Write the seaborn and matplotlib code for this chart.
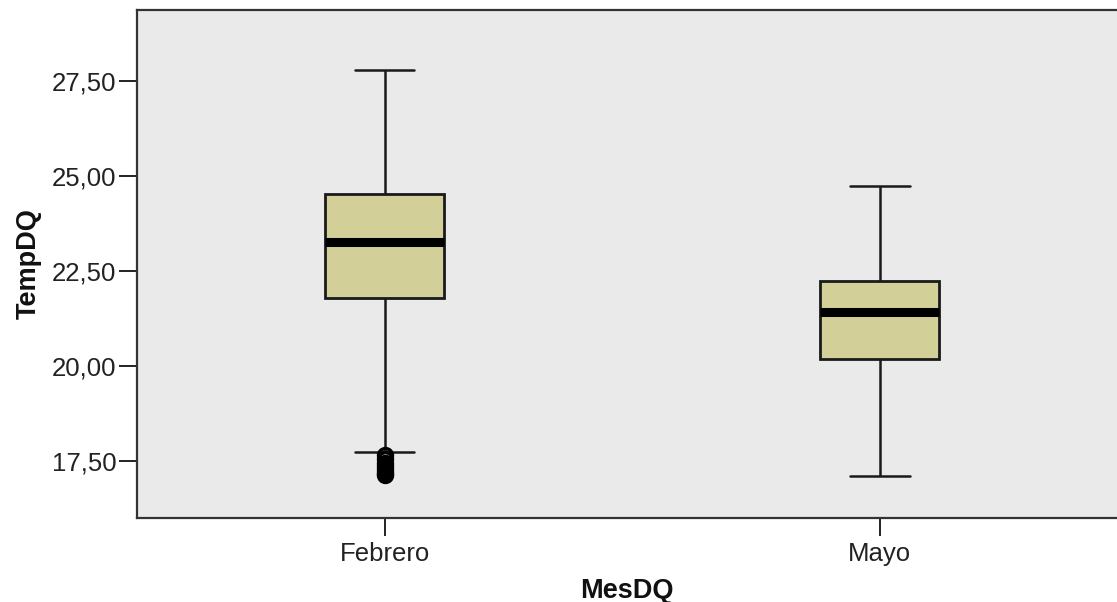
import matplotlib
matplotlib.use("Agg")
import matplotlib.pyplot as plt
import seaborn as sns
import pandas as pd

# Data
months = ["Febrero", "Mayo"]
feb_temps = [17.12, 17.16, 17.22, 17.30, 17.38, 17.45, 17.55, 17.66,
             17.74,
             21.79,
             21.95, 22.10, 22.30, 22.50, 22.70, 22.85, 23.00, 23.15,
             23.26,
             23.40, 23.55, 23.70, 23.85, 24.00, 24.15, 24.30, 24.45,
             24.53,
             24.70, 24.90, 25.20, 25.50, 25.90, 26.40, 26.90, 27.40,
             27.78]
may_temps = [17.11, 19.00, 20.18, 20.90, 21.42, 21.80, 22.24, 23.30, 24.74]
y_ticks = [17.5, 20.0, 22.5, 25.0, 27.5]
y_tick_labels = ["17,50", "20,00", "22,50", "25,00", "27,50"]

df = pd.DataFrame({
    "MesDQ": [months[0]] * len(feb_temps) + [months[1]] * len(may_temps),
    "TempDQ": feb_temps + may_temps,
})

sns.set_style("white")
plt.rcParams["font.family"] = ["Liberation Sans", "DejaVu Sans"]

fig = plt.figure(figsize=(11.17, 6.02), dpi=100)
ax = fig.add_axes([137 / 1117, (602 - 518) / 602, (1117 - 137) / 1117, (518 - 10) / 602])
ax.set_facecolor("#EAEAEA")

line_col = "#1a1a1a"
sns.boxplot(
    data=df, x="MesDQ", y="TempDQ", order=months, ax=ax,
    width=0.24, color="#D3CF98", saturation=1, linewidth=2, linecolor=line_col,
    medianprops=dict(linewidth=6.5, color="black"),
    whiskerprops=dict(linewidth=1.8, color=line_col),
    capprops=dict(linewidth=1.8, color=line_col),
    boxprops=dict(linewidth=2, edgecolor=line_col),
    flierprops=dict(marker="o", markersize=10, markerfacecolor="none",
                    markeredgecolor="black", markeredgewidth=2.5),
)

ax.set_xlim(-0.5, (1117 - 385) / 495)
ax.set_ylim(16.0, 29.37)
ax.set_yticks(y_ticks)
ax.set_yticklabels(y_tick_labels)

for side in ["left", "bottom", "top"]:
    ax.spines[side].set_visible(True)
    ax.spines[side].set_color("#333333")
    ax.spines[side].set_linewidth(1.6)
ax.spines["right"].set_visible(False)

ax.tick_params(axis="both", which="major", direction="out", length=13, width=1.4,
               color="#222222", labelsize=18.5, labelcolor="#222222",
               left=True, bottom=True)
ax.tick_params(axis="y", pad=2)
ax.tick_params(axis="x", pad=4)

ax.set_xlabel("MesDQ", fontsize=19.5, fontweight="bold", labelpad=9, color="#111111")
ax.set_ylabel("TempDQ", fontsize=19.5, fontweight="bold", labelpad=7, color="#111111")

fig.savefig("out.png", dpi=100, facecolor="white")
